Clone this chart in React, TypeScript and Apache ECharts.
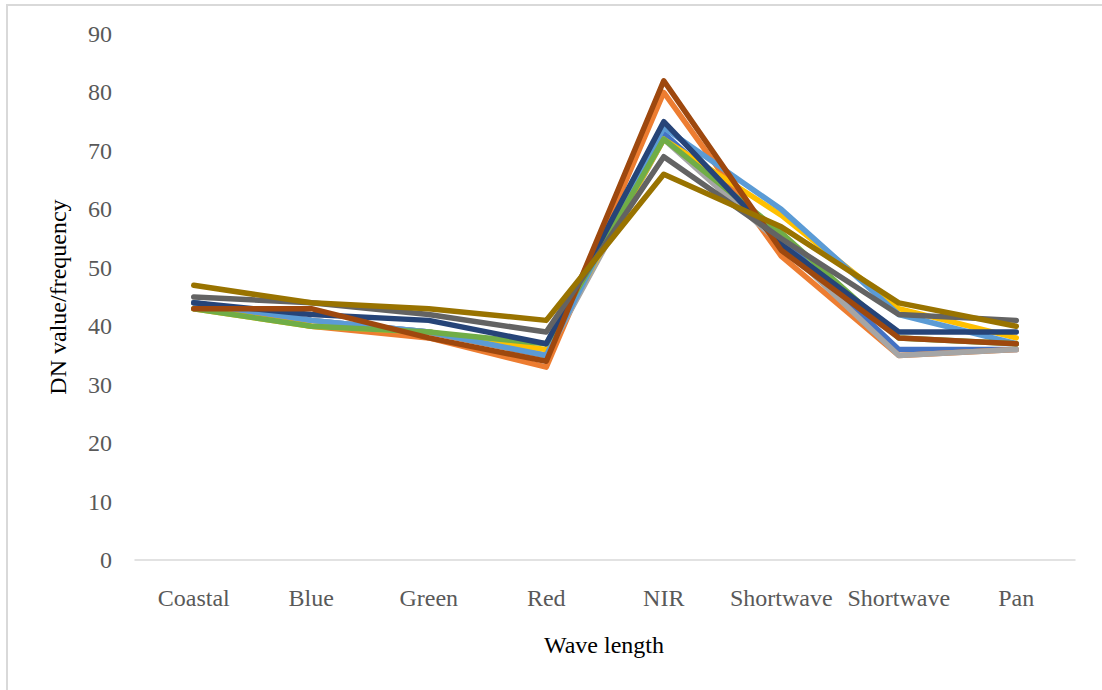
import React, { useEffect, useRef } from "react";
import * as echarts from "echarts";

const categories = ["Coastal", "Blue", "Green", "Red", "NIR", "Shortwave", "Shortwave", "Pan"];

const s1 = [44, 41, 39, 35, 73, 55, 36, 36];
const s2 = [44, 40, 38, 33, 80, 52, 35, 36];
const s3 = [44, 41, 39, 35, 72, 54, 35, 36];
const s4 = [43, 40, 39, 36, 72, 59, 43, 38];
const s5 = [44, 41, 39, 35, 74, 60, 42, 37];
const s6 = [43, 40, 39, 37, 72, 56, 38, 37];
const s7 = [44, 42, 41, 37, 75, 54, 39, 39];
const s8 = [43, 43, 38, 34, 82, 53, 38, 37];
const s9 = [45, 44, 42, 39, 69, 55, 42, 41];
const s10 = [47, 44, 43, 41, 66, 57, 44, 40];

const seriesData = [s1, s2, s3, s4, s5, s6, s7, s8, s9, s10];
const colors = ["#4472C4", "#ED7D31", "#A5A5A5", "#FFC000", "#5B9BD5", "#70AD47", "#264478", "#9E480E", "#636363", "#997300"];

const yTicks = { min: 0, max: 90, interval: 10 };

export default function App() {
  const ref = useRef<HTMLDivElement>(null);
  useEffect(() => {
    if (!ref.current) return;
    const chart = echarts.init(ref.current, undefined, { renderer: "svg" });
    const font = "'Liberation Serif', 'Times New Roman', serif";
    chart.setOption({
      animation: false,
      backgroundColor: "#ffffff",
      grid: { left: 135, right: 27, top: 34, bottom: 130 },
      xAxis: {
        type: "category",
        data: categories,
        boundaryGap: true,
        axisLine: { show: true, lineStyle: { color: "#d9d9d9", width: 1.5 } },
        axisTick: { show: false },
        axisLabel: { color: "#595959", fontFamily: font, fontSize: 24, margin: 26, interval: 0 },
      },
      yAxis: {
        type: "value",
        min: yTicks.min,
        max: yTicks.max,
        interval: yTicks.interval,
        axisLine: { show: false },
        axisTick: { show: false },
        splitLine: { show: false },
        axisLabel: { color: "#595959", fontFamily: font, fontSize: 24, margin: 23 },
      },
      series: seriesData.map((d, i) => ({
        type: "line",
        data: d,
        symbol: "none",
        lineStyle: { color: colors[i], width: 5.5, join: "round", cap: "round" },
        itemStyle: { color: colors[i] },
      })),
      graphic: [
        {
          type: "rect",
          shape: { x: 7, y: 5, width: 1110, height: 700 },
          style: { fill: "none", stroke: "#d9d9d9", lineWidth: 2 },
          silent: true,
        },
        {
          type: "text",
          x: 58,
          y: 297,
          rotation: Math.PI / 2,
          style: {
            text: "DN value/frequency",
            fill: "#000000",
            font: `24px ${font}`,
            align: "center",
            verticalAlign: "middle",
          },
        },
        {
          type: "text",
          x: 604,
          y: 645,
          style: {
            text: "Wave length",
            fill: "#000000",
            font: `24px ${font}`,
            align: "center",
            verticalAlign: "middle",
          },
        },
      ],
    });
    return () => chart.dispose();
  }, []);
  return <div ref={ref} style={{ position: "absolute", left: 0, top: 0, width: 1102, height: 690 }} />;
}
